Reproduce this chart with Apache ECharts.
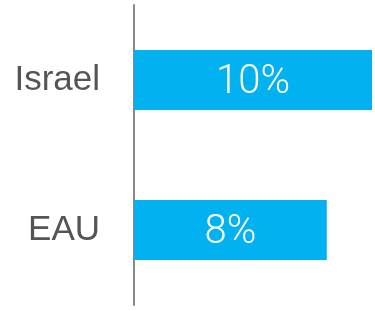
<!DOCTYPE html>
<html>
<head>
<meta charset="utf-8">
<script src="https://cdn.jsdelivr.net/npm/echarts@6/dist/echarts.min.js"></script>
<style>
    html, body { margin: 0; padding: 0; background: #fff; }
    #chart { width: 375px; height: 311px; }
</style>
</head>
<body>
<div id="chart"></div>
<script>
const countries = ['Israel', 'EAU']
const shares = [10, 8.1]

const chart = echarts.init(document.getElementById('chart'))
chart.setOption({
    animation: false,
    grid: { left: 134, right: 3, top: 5, bottom: 6 },
    xAxis: {
        type: 'value',
        min: 0,
        max: 10,
        show: false
    },
    yAxis: {
        type: 'category',
        inverse: true,
        data: countries,
        axisTick: { show: false },
        axisLine: { lineStyle: { color: '#888', width: 2 } },
        axisLabel: {
            margin: 34,
            color: '#555',
            fontSize: 35,
            fontFamily: 'Liberation Sans'
        }
    },
    series: [
        {
            type: 'bar',
            data: shares,
            barWidth: 60,
            itemStyle: { color: '#02b1f0' },
            label: {
                show: true,
                position: 'inside',
                offset: [0, 3],
                color: '#fff',
                fontSize: 40,
                fontFamily: 'Roboto',
                fontWeight: 300,
                formatter: (p) => Math.round(p.value) + '%'
            }
        }
    ]
})
</script>
</body>
</html>
